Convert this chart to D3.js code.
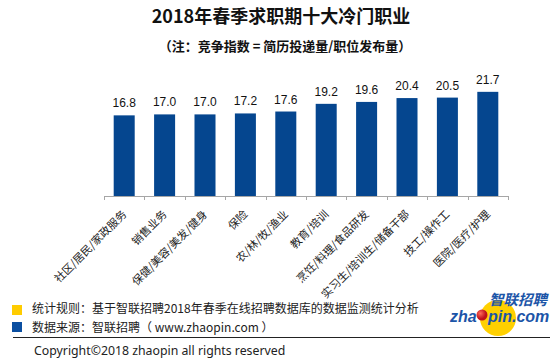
<!DOCTYPE html>
<html>
<head>
<meta charset="utf-8">
<script src="https://cdn.jsdelivr.net/npm/d3@7"></script>
<style>
  html, body { margin: 0; padding: 0; background: #fff; }
  svg { display: block; }
</style>
</head>
<body>
<script>
const title = "2018年春季求职期十大冷门职业";
const subtitle = "（注：竞争指数 = 简历投递量/职位发布量）";
const categories = ["社区/居民/家政服务", "销售业务", "保健/美容/美发/健身", "保险", "农/林/牧/渔业",
  "教育/培训", "烹饪/料理/食品研发", "实习生/培训生/储备干部", "技工/操作工", "医院/医疗/护理"];
const values = [16.8, 17.0, 17.0, 17.2, 17.6, 19.2, 19.6, 20.4, 20.5, 21.7];
const footnotes = ["统计规则：基于智联招聘2018年春季在线招聘数据库的数据监测统计分析",
  "数据来源：智联招聘（ www.zhaopin.com ）"];
const copyright = "Copyright©2018 zhaopin all rights reserved";

const W = 558, H = 359;
const CJK = "'Microsoft YaHei','Noto Sans CJK SC','Noto Sans',sans-serif";
const svg = d3.select("body").append("svg").attr("width", W).attr("height", H);

svg.append("text").attr("x", 281).attr("y", 23).attr("text-anchor", "middle")
  .attr("font-family", CJK).attr("font-weight", "bold").attr("font-size", 18).attr("fill", "#111")
  .text(title);
svg.append("text").attr("x", 285).attr("y", 51).attr("text-anchor", "middle")
  .attr("font-family", CJK).attr("font-weight", "bold").attr("font-size", 13).attr("fill", "#111")
  .text(subtitle);

const x = d3.scaleBand().domain(categories).range([104, 508]).paddingInner(0.48).paddingOuter(0.24);
const y = d3.scaleLinear().domain([0, 25]).range([196, 76]);

svg.append("g").selectAll("rect").data(values).join("rect")
  .attr("x", (d, i) => x(categories[i]))
  .attr("y", d => y(d))
  .attr("width", x.bandwidth())
  .attr("height", d => y(0) - y(d))
  .attr("fill", "#05468f");

svg.append("g").selectAll("text").data(values).join("text")
  .attr("x", (d, i) => x(categories[i]) + x.bandwidth() / 2)
  .attr("y", d => y(d) - 8)
  .attr("text-anchor", "middle")
  .attr("font-family", "'Liberation Sans', Arial, sans-serif")
  .attr("font-size", 12).attr("fill", "#111")
  .text(d => d.toFixed(1));

// axis
const axis = d3.axisBottom(x).tickSize(0).tickFormat("");
const ag = svg.append("g").attr("transform", `translate(0,${y(0)})`).call(axis);
ag.select(".domain").attr("stroke", "#a6a6a6").attr("d", `M${x.range()[0]},0.5H${x.range()[1]}`);
const step = x.step();
const bounds = d3.range(categories.length + 1).map(i => x.range()[0] + i * step);
ag.selectAll("line.b").data(bounds).join("line").attr("class", "b")
  .attr("x1", d => Math.round(d) + 0.5).attr("x2", d => Math.round(d) + 0.5)
  .attr("y1", 0).attr("y2", 4).attr("stroke", "#a6a6a6");

svg.append("g").selectAll("text").data(categories).join("text")
  .attr("transform", d => `translate(${x(d) + x.bandwidth() / 2 + 3},215) rotate(-45)`)
  .attr("text-anchor", "end")
  .attr("font-family", CJK).attr("font-size", 11).attr("fill", "#222")
  .text(d => d);

// footer
svg.append("rect").attr("x", 12).attr("y", 305).attr("width", 10).attr("height", 10).attr("fill", "#ffcc00");
svg.append("rect").attr("x", 12).attr("y", 322).attr("width", 10).attr("height", 10).attr("fill", "#0b4fa1");
svg.append("text").attr("x", 32).attr("y", 312.5).attr("font-family", CJK).attr("font-size", 12)
  .attr("fill", "#222").text(footnotes[0]);
svg.append("text").attr("x", 32).attr("y", 331.5).attr("font-family", CJK).attr("font-size", 12)
  .attr("fill", "#222").text(footnotes[1]);
svg.append("line").attr("x1", 13).attr("x2", 550).attr("y1", 337.5).attr("y2", 337.5)
  .attr("stroke", "#222").attr("stroke-width", 1);
svg.append("text").attr("x", 34).attr("y", 355).attr("font-family", "'Noto Sans', 'Liberation Sans', sans-serif")
  .attr("font-size", 12.3).attr("fill", "#222").text(copyright);

// logo
const logo = svg.append("g");
logo.append("circle").attr("cx", 498).attr("cy", 318).attr("r", 18).attr("fill", "#ffd000");
const grad = svg.append("defs").append("radialGradient").attr("id", "ball").attr("cx", "35%").attr("cy", "35%");
grad.append("stop").attr("offset", "0%").attr("stop-color", "#ff6a5a");
grad.append("stop").attr("offset", "100%").attr("stop-color", "#c0101a");
logo.append("circle").attr("cx", 482).attr("cy", 315).attr("r", 5.5).attr("fill", "url(#ball)");
logo.append("text").attr("x", 489).attr("y", 304.5).attr("font-family", CJK).attr("font-weight", "bold")
  .attr("font-style", "italic").attr("font-size", 14.5).attr("fill", "#1c55a8").text("智联招聘");
logo.append("text").attr("x", 450).attr("y", 322).attr("font-family", "'Liberation Sans', Arial, sans-serif")
  .attr("font-weight", "bold").attr("font-style", "italic").attr("font-size", 16).attr("fill", "#1c55a8").text("zha");
logo.append("text").attr("x", 488).attr("y", 322).attr("font-family", "'Liberation Sans', Arial, sans-serif")
  .attr("font-weight", "bold").attr("font-style", "italic").attr("font-size", 16).attr("fill", "#1c55a8").text("pin.com");
</script>
</body>
</html>
